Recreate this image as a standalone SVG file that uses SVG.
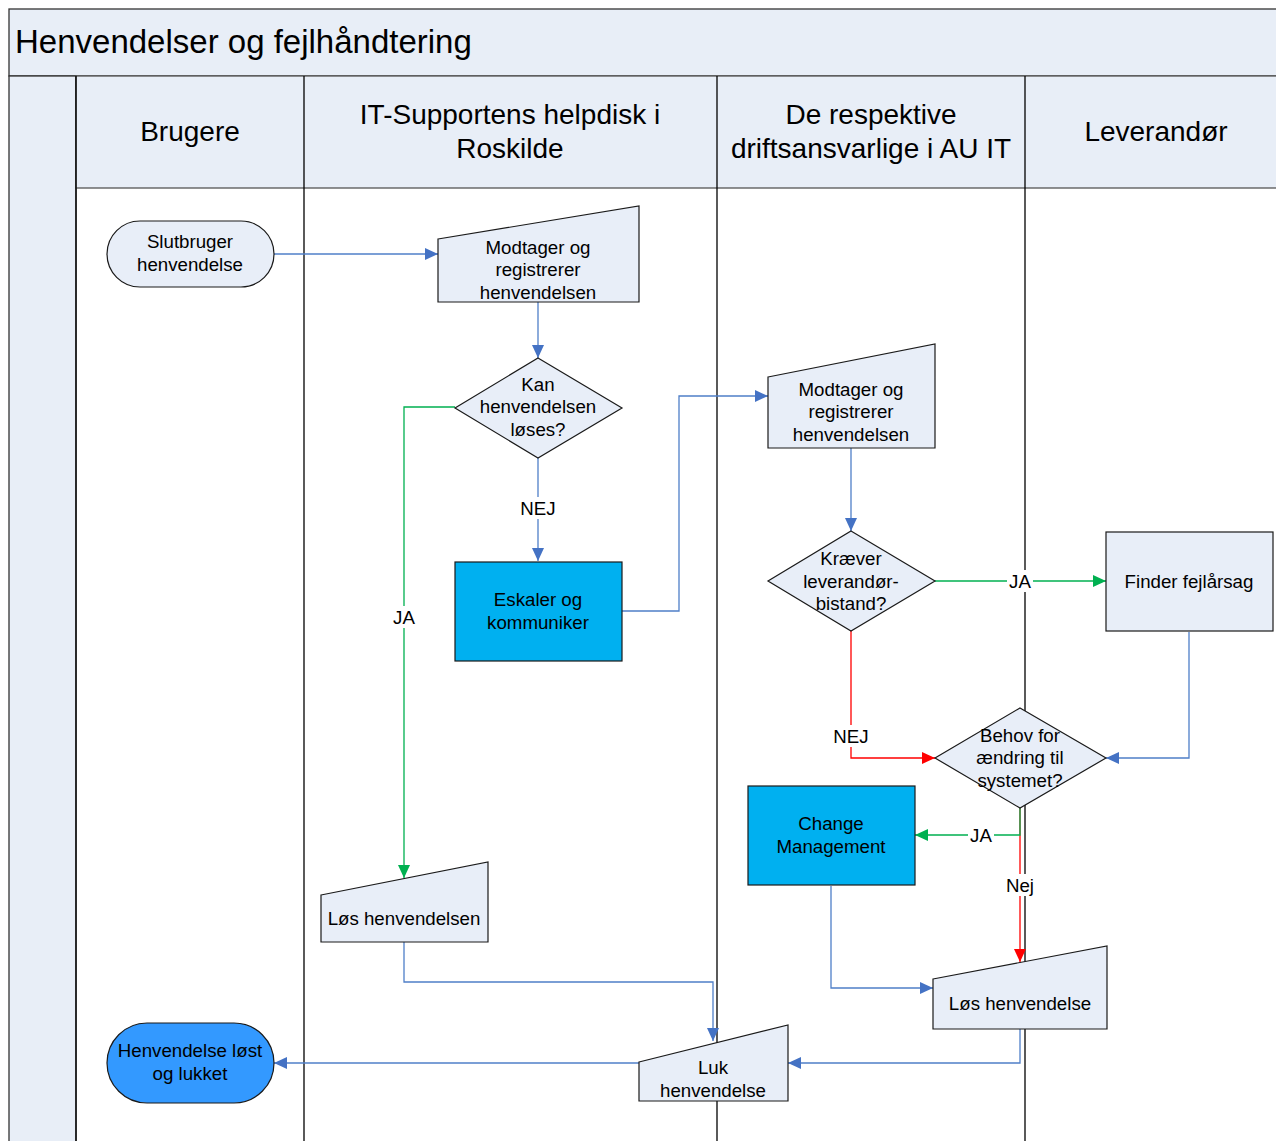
<svg xmlns="http://www.w3.org/2000/svg" width="1276" height="1141" viewBox="0 0 1276 1141">
<style>
text{font-family:"Liberation Sans",Arial,sans-serif;fill:#000;text-anchor:middle}
.n{font-size:18.7px}
.h{font-size:28px}
.shape{fill:#E8EEF8;stroke:#1a1a1a;stroke-width:1.2}
.hi{fill:#00B0F0;stroke:#1a1a1a;stroke-width:1.2}
.term2{fill:#3399FF;stroke:#1a1a1a;stroke-width:1.2}
.c{fill:none;stroke-width:1.3}
.b{stroke:#4F7FC8}
.g{stroke:#00B050}
.r{stroke:#FF0000}
.lane{stroke:#000;stroke-width:1.3;fill:none}
.lbl{fill:#fff;stroke:none}
</style>
<defs>
<marker id="ab" markerUnits="userSpaceOnUse" markerWidth="14" markerHeight="12" refX="13" refY="6" orient="auto"><path d="M0,0 L13,6 L0,12 z" fill="#4472C4"/></marker>
<marker id="ag" markerUnits="userSpaceOnUse" markerWidth="14" markerHeight="12" refX="13" refY="6" orient="auto"><path d="M0,0 L13,6 L0,12 z" fill="#00B050"/></marker>
<marker id="ar" markerUnits="userSpaceOnUse" markerWidth="14" markerHeight="12" refX="13" refY="6" orient="auto"><path d="M0,0 L13,6 L0,12 z" fill="#FF0000"/></marker>
</defs>
<rect width="1276" height="1141" fill="#fff"/>
<g id="pool">
<rect x="9" y="9" width="1280" height="67" fill="#E8EEF7" stroke="#333" stroke-width="1.3"/>
<text x="15" y="53" style="font-size:33px;text-anchor:start">Henvendelser og fejlhåndtering</text>
<rect x="9" y="76" width="67" height="1080" fill="#E8EEF7" stroke="#333" stroke-width="1.3"/>
<rect x="76" y="76" width="1220" height="112" fill="#E8EEF7" stroke="#555" stroke-width="1.3"/>
<line class="lane" x1="76" y1="76" x2="76" y2="1141"/>
<line class="lane" x1="304" y1="76" x2="304" y2="1141"/>
<line class="lane" x1="717" y1="76" x2="717" y2="1141"/>
<line class="lane" x1="1025" y1="76" x2="1025" y2="1141"/>
<text class="h" x="190" y="141">Brugere</text>
<text class="h" x="510" y="124">IT-Supportens helpdisk i</text>
<text class="h" x="510" y="158">Roskilde</text>
<text class="h" x="871" y="124">De respektive</text>
<text class="h" x="871" y="158">driftsansvarlige i AU IT</text>
<text class="h" x="1156" y="141">Leverandør</text>
</g>
<g id="connectors">
<path class="c b" d="M274,254 H438" marker-end="url(#ab)"/>
<path class="c b" d="M538,302 V358" marker-end="url(#ab)"/>
<path class="c b" d="M538,458 V561" marker-end="url(#ab)"/>
<path class="c g" d="M455,407 H404 V878" marker-end="url(#ag)"/>
<path class="c b" d="M622,611 H679 V396 H768" marker-end="url(#ab)"/>
<path class="c b" d="M851,448 V531" marker-end="url(#ab)"/>
<path class="c g" d="M935,581 H1106" marker-end="url(#ag)"/>
<path class="c r" d="M851,631 V758 H935" marker-end="url(#ar)"/>
<path class="c b" d="M1189,632 V758 H1106" marker-end="url(#ab)"/>
<path class="c r" d="M1020,808 V962" marker-end="url(#ar)"/>
<path class="c g" d="M1020,808 V835 H915" marker-end="url(#ag)"/>
<path class="c b" d="M831,886 V988 H933" marker-end="url(#ab)"/>
<path class="c b" d="M404,942 V982 H713 V1041" marker-end="url(#ab)"/>
<path class="c b" d="M1020,1029 V1063 H788" marker-end="url(#ab)"/>
<path class="c b" d="M639,1063 H274" marker-end="url(#ab)"/>
<rect class="lbl" x="519" y="497" width="38" height="22"/>
<text class="n" x="538" y="515">NEJ</text>
<rect class="lbl" x="391" y="606" width="26" height="22"/>
<text class="n" x="404" y="624">JA</text>
<rect class="lbl" x="1007" y="570" width="26" height="22"/>
<text class="n" x="1020" y="588">JA</text>
<rect class="lbl" x="832" y="725" width="38" height="22"/>
<text class="n" x="851" y="743">NEJ</text>
<rect class="lbl" x="968" y="824" width="26" height="22"/>
<text class="n" x="981" y="842">JA</text>
<rect class="lbl" x="1005" y="874" width="30" height="22"/>
<text class="n" x="1020" y="892">Nej</text>
</g>
<g id="n1">
<rect class="shape" x="107" y="221" width="167" height="66" rx="33"/>
<text class="n" x="190" y="248">Slutbruger</text>
<text class="n" x="190" y="271">henvendelse</text>
</g>
<g id="n2">
<path class="shape" d="M438,239 L639,206 V302 H438 z"/>
<text class="n" x="538" y="254">Modtager og</text>
<text class="n" x="538" y="276">registrerer</text>
<text class="n" x="538" y="299">henvendelsen</text>
</g>
<g id="n3">
<path class="shape" d="M538,358 L622,408 L538,458 L455,408 z"/>
<text class="n" x="538" y="391">Kan</text>
<text class="n" x="538" y="413">henvendelsen</text>
<text class="n" x="538" y="436">løses?</text>
</g>
<g id="n4">
<rect class="hi" x="455" y="562" width="167" height="99"/>
<text class="n" x="538" y="606">Eskaler og</text>
<text class="n" x="538" y="629">kommuniker</text>
</g>
<g id="n5">
<path class="shape" d="M321,895 L488,862 V942 H321 z"/>
<text class="n" x="404" y="925">Løs henvendelsen</text>
</g>
<g id="n6">
<path class="shape" d="M768,377 L935,344 V448 H768 z"/>
<text class="n" x="851" y="396">Modtager og</text>
<text class="n" x="851" y="418">registrerer</text>
<text class="n" x="851" y="441">henvendelsen</text>
</g>
<g id="n7">
<path class="shape" d="M851,531 L935,581 L851,631 L768,581 z"/>
<text class="n" x="851" y="565">Kræver</text>
<text class="n" x="851" y="588">leverandør-</text>
<text class="n" x="851" y="610">bistand?</text>
</g>
<g id="n8">
<rect class="shape" x="1106" y="532" width="167" height="99"/>
<text class="n" x="1189" y="588">Finder fejlårsag</text>
</g>
<g id="n9">
<path class="shape" d="M1020,708 L1106,758 L1020,808 L935,758 z"/>
<text class="n" x="1020" y="742">Behov for</text>
<text class="n" x="1020" y="764">ændring til</text>
<text class="n" x="1020" y="787">systemet?</text>
</g>
<g id="n10">
<rect class="hi" x="748" y="786" width="167" height="99"/>
<text class="n" x="831" y="830">Change</text>
<text class="n" x="831" y="853">Management</text>
</g>
<g id="n11">
<path class="shape" d="M933,979 L1107,946 V1029 H933 z"/>
<text class="n" x="1020" y="1010">Løs henvendelse</text>
</g>
<g id="n12">
<path class="shape" d="M639,1062 L788,1025 V1101 H639 z"/>
<text class="n" x="713" y="1074">Luk</text>
<text class="n" x="713" y="1097">henvendelse</text>
</g>
<g id="n13">
<rect class="term2" x="107" y="1023" width="167" height="80" rx="40"/>
<text class="n" x="190" y="1057">Henvendelse løst</text>
<text class="n" x="190" y="1080">og lukket</text>
</g>
</svg>
